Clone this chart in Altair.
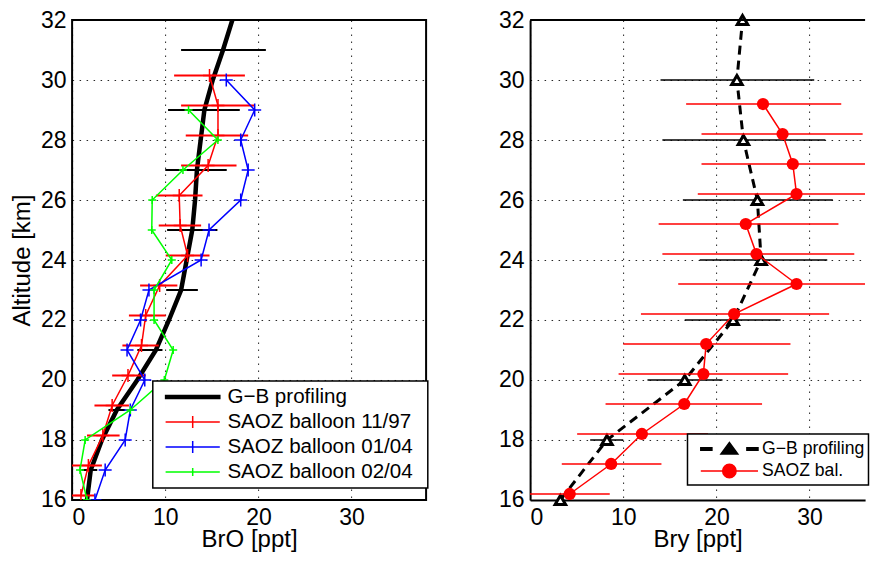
import altair as alt
import pandas as pd

FONT = "Liberation Sans"

# ---------------- Left panel: BrO ----------------
gb_alt = [16, 17, 18, 19, 20, 21, 22, 23, 24, 25, 26, 27, 28, 29, 30, 31, 32]
gb_bro = [1.6, 2.0, 3.2, 4.8, 7.0, 9.0, 10.4, 11.7, 12.3, 12.9, 13.2, 13.4, 13.8, 14.2, 15.1, 16.2, 17.2]
gb_err_alt = [17, 19, 21, 23, 25, 27, 29, 31]
gb_err_lo = [1.0, 3.9, 7.0, 10.1, 10.2, 10.0, 10.3, 11.7]
gb_err_hi = [2.7, 5.7, 9.7, 13.5, 15.6, 16.6, 18.0, 20.8]

s97_alt = [16.15, 17.15, 18.15, 19.15, 20.15, 21.15, 22.15, 23.15, 24.15, 25.15, 26.15, 27.15, 28.15, 29.15, 30.15]
s97_bro = [0.95, 1.75, 3.3, 4.3, 6.0, 7.45, 7.9, 9.4, 12.4, 11.6, 11.5, 14.6, 15.66, 15.66, 14.75]
s97_lo = [-0.5, -0.1, 1.6, 2.4, 4.3, 5.4, 6.1, 7.3, 10.05, 9.3, 9.0, 11.7, 12.2, 11.7, 10.95]
s97_hi = [2.4, 3.2, 5.1, 6.1, 7.9, 9.3, 10.05, 11.3, 14.75, 13.85, 14.0, 17.65, 18.9, 19.6, 18.55]

s0104_alt = [16, 17, 18, 19, 20, 21, 22, 23, 24, 25, 26, 27, 28, 29, 30]
s0104_bro = [2.45, 3.55, 5.7, 6.25, 7.8, 5.9, 7.35, 8.25, 13.85, 14.7, 18.1, 18.9, 18.1, 19.6, 16.55]

s0204_alt = [16, 17, 18, 19, 20, 21, 22, 23, 24, 25, 26, 27, 28, 29]
s0204_bro = [1.6, 0.85, 1.4, 6.25, 9.9, 10.85, 8.8, 8.8, 10.7, 8.55, 8.6, 11.9, 15.65, 12.5]

left_names = ["G−B profiling", "SAOZ balloon 11/97", "SAOZ balloon 01/04", "SAOZ balloon 02/04"]

# ---------------- Right panel: Bry ----------------
gbb_alt = [16, 18, 20, 22, 24, 26, 28, 30, 32]
gbb_v = [3.25, 8.25, 16.6, 21.8, 24.8, 24.4, 22.9, 22.2, 22.8]
gbb_err_alt = [18, 20, 22, 24, 26, 28, 30]
gbb_lo = [6.45, 12.6, 16.6, 18.2, 16.4, 14.2, 14.0]
gbb_hi = [10.0, 20.65, 26.9, 31.9, 32.5, 31.7, 30.5]

sb_alt = [16.2, 17.2, 18.2, 19.2, 20.2, 21.2, 22.2, 23.2, 24.2, 25.2, 26.2, 27.2, 28.2, 29.2]
sb_v = [4.25, 8.7, 12.0, 16.55, 18.6, 18.9, 21.9, 28.6, 24.3, 23.15, 28.6, 28.2, 27.1, 25.0]
sb_lo = [-0.1, 3.4, 5.05, 8.1, 9.5, 10.0, 11.9, 15.9, 14.2, 13.8, 18.0, 18.4, 18.4, 16.75]
sb_hi = [8.55, 14.1, 19.1, 24.9, 27.7, 27.95, 32.1, 41.3, 34.8, 33.1, 39.2, 38.0, 35.7, 33.4]

right_names = ["G−B profiling", "SAOZ bal."]

YDOM = [16, 32]
WL, WR, H = 354, 335, 480
PXU = WL / 38            # pixels per ppt on both panels
XDOM_L = [0, 38]
XDOM_R = [0, WR / PXU]

PLUS = "M-1,0H1M0,-1V1"


def xenc(field, title, dom, domain_line=False):
    return alt.X(f"{field}:Q", scale=alt.Scale(domain=dom, nice=False, zero=False),
                 axis=alt.Axis(values=[0, 10, 20, 30], title=title, domain=domain_line))


def yenc(title, domain_line=False):
    return alt.Y("alt:Q", scale=alt.Scale(domain=YDOM, nice=False, zero=False),
                 axis=alt.Axis(values=list(range(16, 33, 2)), title=title, domain=domain_line))


def prof(alts, vals):
    return pd.DataFrame({"alt": alts, "v": vals})


def bars(alts, lo, hi):
    return pd.DataFrame({"alt": alts, "lo": lo, "hi": hi})


def make_panel(xt, yt, dom, dl):
    X = lambda f: xenc(f, xt, dom, dl)
    Y = lambda: yenc(yt, dl)

    def line_layer(data, color, width, dash=None):
        kw = dict(color=color, strokeWidth=width, clip=True)
        if dash:
            kw["strokeDash"] = dash
        return alt.Chart(data).mark_line(**kw).encode(x=X("v"), y=Y(), order=alt.Order("alt:Q"))

    def bar_layer(data, color, width):
        return alt.Chart(data).mark_rule(color=color, strokeWidth=width, clip=True).encode(
            x=X("lo"), x2="hi:Q", y=Y())

    def point_layer(data, **kw):
        return alt.Chart(data).mark_point(opacity=1, **kw).encode(x=X("v"), y=Y())

    def legend_layer(names, paths, colors, lx, ly, rowpad, loff, pad, fs, extra):
        data = pd.DataFrame({"series": names, "v": [-10] * len(names), "alt": [20] * len(names)})
        kw = dict(orient="none", legendX=lx, legendY=ly,
                  labelFontSize=fs, labelFont=FONT, labelColor="black",
                  symbolSize=400, symbolStrokeWidth=1.5, labelOffset=loff,
                  padding=pad, rowPadding=rowpad, fillColor="white", strokeColor="black",
                  labelLimit=0, symbolOpacity=1)
        if extra > 0:
            kw.update(title=" ", titleOrient="right", titleFontSize=1, titlePadding=extra)
        else:
            kw.update(title=None)
        leg = alt.Legend(**kw)
        return alt.Chart(data).mark_point(filled=True, clip=True, opacity=1).encode(
            x=X("v"), y=Y(),
            shape=alt.Shape("series:N", scale=alt.Scale(domain=names, range=paths), legend=leg),
            fill=alt.Fill("series:N", scale=alt.Scale(domain=names, range=colors), legend=leg),
            stroke=alt.Stroke("series:N", scale=alt.Scale(domain=names, range=colors), legend=leg),
        )

    return line_layer, bar_layer, point_layer, legend_layer


# ----- left chart -----
ll, bl, pl, lg = make_panel("BrO [ppt]", "Altitude [km]", XDOM_L, False)
left = alt.layer(
    ll(prof(gb_alt, gb_bro), "black", 4.5),
    bl(bars(gb_err_alt, gb_err_lo, gb_err_hi), "black", 2),
    bl(bars(s97_alt, s97_lo, s97_hi), "#ff0000", 2),
    ll(prof(s97_alt, s97_bro), "#ff0000", 1.5),
    pl(prof(s97_alt, s97_bro), shape=PLUS, size=169, color="#ff0000", strokeWidth=1.5, clip=True),
    ll(prof(s0104_alt, s0104_bro), "#0000ff", 1.5),
    pl(prof(s0104_alt, s0104_bro), shape=PLUS, size=169, color="#0000ff", strokeWidth=1.5, clip=True),
    ll(prof(s0204_alt, s0204_bro), "#00ff00", 1.5),
    pl(prof(s0204_alt, s0204_bro), shape=PLUS, size=64, color="#00ff00", strokeWidth=1.5, clip=True),
    lg(left_names,
       ["M-0.32,-0.15H5.1V0.15H-0.32Z",
        "M-0.32,0H5.1M2.39,-0.6V0.6",
        "M-0.32,0H5.1M2.39,-0.6V0.6",
        "M-0.32,0H5.1M2.39,-0.4V0.4"],
       ["black", "#ff0000", "#0000ff", "#00ff00"],
       80.7, 361, 3, 47.6, 5, 20.6, 9.1),
).properties(width=WL, height=H)

# ----- right chart -----
ll, bl, pl, lg = make_panel("Bry [ppt]", None, XDOM_R, True)
frame_top = alt.Chart(pd.DataFrame({"alt": [32]})).mark_rule(color="black", strokeWidth=2).encode(
    y=yenc(None, True), x=alt.value(0), x2=alt.value(WR))
right = alt.layer(
    bl(bars(gbb_err_alt, gbb_lo, gbb_hi), "black", 1.5),
    ll(prof(gbb_alt, gbb_v), "black", 3, dash=[9, 6]),
    pl(prof(gbb_alt, gbb_v), shape="triangle-up", size=110, fill="white", stroke="black",
       strokeWidth=3, filled=False, clip=False),
    bl(bars(sb_alt, sb_lo, sb_hi), "#ff0000", 1.5),
    ll(prof(sb_alt, sb_v), "#ff0000", 1.5),
    alt.Chart(prof(sb_alt, sb_v)).mark_circle(size=150, color="#ff0000", opacity=1, clip=True).encode(
        x=xenc("v", "Bry [ppt]", XDOM_R, True), y=yenc(None, True)),
    frame_top,
    lg(right_names,
       ["M-0.17,-0.13H0.94V0.13H-0.17Z M4.44,-0.13H5.55V0.13H4.44Z M1.85,0.5L2.69,-0.65L3.53,0.5Z",
        "M-0.17,0H5.55 M2.02,0A0.67,0.67 0 1,0 3.36,0A0.67,0.67 0 1,0 2.02,0Z"],
       ["black", "#ff0000"],
       157.4, 414, 2, 48.6, 4, 17.6, 0),
).properties(width=WR, height=H, view=alt.ViewBackground(strokeOpacity=0))

chart = alt.hconcat(left, right, spacing=68).resolve_scale(
    fill="independent", stroke="independent", shape="independent"
).resolve_legend(fill="independent", stroke="independent", shape="independent").properties(
    padding={"left": 0.1, "top": 0, "right": 0, "bottom": 0}
).configure_view(
    stroke="black", strokeWidth=2
).configure_axis(
    labelFont=FONT, titleFont=FONT, labelFontSize=23, titleFontSize=24,
    titleFontWeight="normal", labelColor="black", titleColor="black",
    domainColor="black", domainWidth=2, ticks=False, labelPadding=6,
    grid=True, gridColor="black", gridDash=[1.5, 5.5], gridWidth=1, gridOpacity=0.85,
).configure_axisX(
    labelPadding=7, titlePadding=-2
).configure_axisY(
    titlePadding=6.5
).configure_legend(
    strokeWidth=1.5
)

chart.save("out.html", embed_options={"renderer": "svg", "actions": False})
